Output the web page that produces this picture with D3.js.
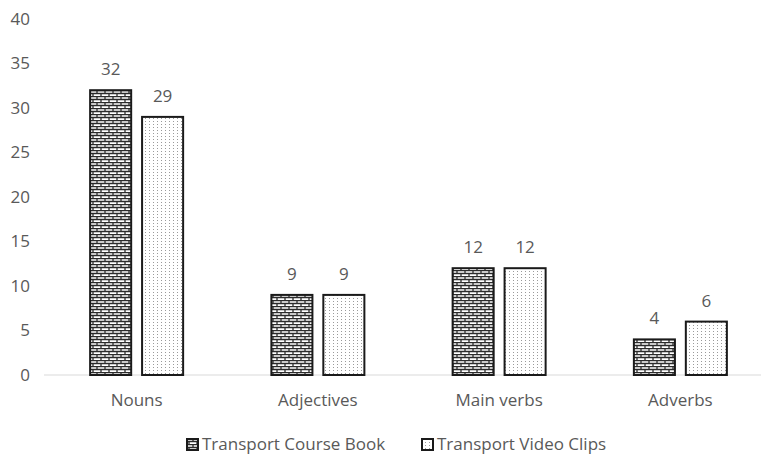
<!DOCTYPE html>
<html>
<head>
<meta charset="utf-8">
<script src="https://cdn.jsdelivr.net/npm/d3@7"></script>
<style>
  html, body { margin: 0; padding: 0; background: #fff; }
  svg { display: block; }
  text { font-family: "Open Sans", "Noto Sans", sans-serif; fill: #595959; }
</style>
</head>
<body>
<svg id="chart" width="761" height="455"></svg>
<script>
// Word-class counts in the two transport sources
const categories = ["Nouns", "Adjectives", "Main verbs", "Adverbs"];
const seriesNames = ["Transport Course Book", "Transport Video Clips"];
const courseBook = [32, 9, 12, 4];
const videoClips = [29, 9, 12, 6];
const yTicks = [0, 5, 10, 15, 20, 25, 30, 35, 40];

const svg = d3.select("#chart");
const W = 761, H = 455;
const FONT = "17px";

// Fill patterns: brick for the course book, dots for the video clips
const defs = svg.append("defs");
const brick = defs.append("pattern")
  .attr("id", "brick").attr("patternUnits", "userSpaceOnUse")
  .attr("width", 8).attr("height", 6);
brick.append("rect").attr("width", 8).attr("height", 6).attr("fill", "#fff");
brick.append("path")
  .attr("d", "M0,0.5H8M0,3.5H8M1,0V3.5M5,3.5V6")
  .attr("stroke", "#2b2b2b").attr("stroke-width", 1.3).attr("fill", "none");

const dots = defs.append("pattern")
  .attr("id", "dots").attr("patternUnits", "userSpaceOnUse")
  .attr("width", 4).attr("height", 3);
dots.append("rect").attr("width", 4).attr("height", 3).attr("fill", "#fff");
dots.append("rect").attr("x", 1).attr("y", 1).attr("width", 1).attr("height", 1).attr("fill", "#9a9a9a");

// Category bands run past the right edge of the canvas
const x0 = d3.scaleBand().domain(categories).range([46, 771]).padding(0);
const x1 = d3.scaleBand().domain(seriesNames)
  .range([x0.bandwidth() / 2 - 46.5, x0.bandwidth() / 2 + 46.5]).paddingInner(0.21);
const y = d3.scaleLinear().domain([0, 40]).range([375, 19]);

// Y-axis tick labels (no axis line)
const yAxis = svg.append("g").attr("transform", "translate(30,0)")
  .call(d3.axisLeft(y).tickValues(yTicks).tickSize(0).tickPadding(0));
yAxis.select(".domain").remove();
yAxis.selectAll("text").style("font-size", FONT).attr("fill", "#595959")
  .style("font-family", "'Open Sans', sans-serif");

// Baseline
svg.append("line")
  .attr("x1", 44).attr("x2", W)
  .attr("y1", y(0)).attr("y2", y(0))
  .attr("stroke", "#d9d9d9").attr("stroke-width", 1);

// Category labels
const xAxis = svg.append("g").attr("transform", `translate(0,${y(0)})`)
  .call(d3.axisBottom(x0).tickSize(0).tickPadding(19));
xAxis.select(".domain").remove();
xAxis.selectAll("text").style("font-size", FONT).attr("fill", "#595959")
  .style("font-family", "'Open Sans', sans-serif");

const series = [
  { name: seriesNames[0], values: courseBook, fill: "url(#brick)" },
  { name: seriesNames[1], values: videoClips, fill: "url(#dots)" }
];

series.forEach(s => {
  const g = svg.append("g");
  g.selectAll("rect").data(categories).join("rect")
    .attr("x", (c) => x0(c) + x1(s.name))
    .attr("y", (c, i) => y(s.values[i]))
    .attr("width", x1.bandwidth())
    .attr("height", (c, i) => y(0) - y(s.values[i]))
    .attr("fill", s.fill)
    .attr("stroke", "#1a1a1a").attr("stroke-width", 2);
  g.selectAll("text").data(categories).join("text")
    .attr("x", (c) => x0(c) + x1(s.name) + x1.bandwidth() / 2)
    .attr("y", (c, i) => y(s.values[i]) - 15)
    .attr("text-anchor", "middle")
    .style("font-size", FONT)
    .text((c, i) => s.values[i]);
});

// Legend
const legend = svg.append("g");
const legendItems = [
  { name: seriesNames[0], fill: "url(#brick)", x: 187 },
  { name: seriesNames[1], fill: "url(#dots)", x: 422 }
];
legendItems.forEach(it => {
  legend.append("rect")
    .attr("x", it.x).attr("y", 439).attr("width", 11).attr("height", 11)
    .attr("fill", it.fill).attr("stroke", "#1a1a1a").attr("stroke-width", 2);
  legend.append("text")
    .attr("x", it.x + 15).attr("y", 450)
    .style("font-size", FONT)
    .text(it.name);
});
</script>
</body>
</html>
